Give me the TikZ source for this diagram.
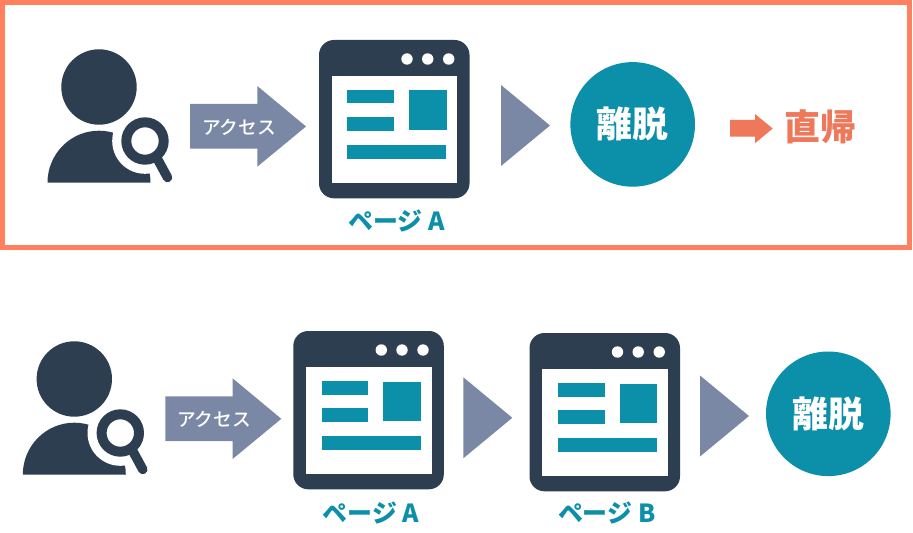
\documentclass[tikz,border=0pt]{standalone}
\usepackage{fontspec}
\newfontfamily\jp{Noto Sans CJK JP}
\newfontfamily\jpmed{Noto Sans CJK JP Medium}
\definecolor{navy}{HTML}{2D3E50}
\definecolor{slate}{HTML}{7A88A6}
\definecolor{teal}{HTML}{0C8FA8}
\definecolor{coral}{HTML}{EF775A}
\definecolor{framecoral}{HTML}{FF7F5F}
\tikzset{
  x=1bp,y=-1bp,
  iconfill/.style={fill=navy,draw=none},
  slatefill/.style={fill=slate,draw=none},
  tealfill/.style={fill=teal,draw=none},
  accesslabel/.style={text=white,inner sep=0pt,font=\jpmed\fontsize{18.8}{19}\selectfont},
  pagelabel/.style={text=teal,inner sep=0pt,font=\jp\bfseries\fontsize{25}{26}\selectfont},
  exitlabel/.style={text=white,inner sep=0pt,font=\jp\bfseries\fontsize{36}{37}\selectfont},
  returnlabel/.style={text=coral,inner sep=0pt,font=\jp\bfseries\fontsize{36}{37}\selectfont},
  userpic/.pic={
    \fill[navy] (99,87) circle[radius=37.7];
    \begin{scope}
      \clip (40,125) rectangle (160,182.7);
      \fill[navy] (47.5,182.7) arc[start angle=180,end angle=360,x radius=51.5,y radius=52] -- cycle;
      \fill[white] (145,141) circle[radius=32.8];
    \end{scope}
    \draw[navy,line width=10] (145,141) circle[radius=18.7];
    \draw[navy,line width=9.5,line cap=round] (158,160) -- (167.5,177.5);
  },
  accessarrow/.pic={
    \fill[slatefill] (190,104) -- (257.3,104) -- (257.3,86) -- (306,126.5) -- (257.3,166.7) -- (257.3,148.7) -- (190,148.7) -- cycle;
  },
  windowpic/.pic={
    \fill[iconfill,rounded corners=15] (319,40) rectangle (469.5,198.3);
    \fill[white] (331.7,76.3) rectangle (457.3,182.7);
    \foreach \dx in {407,427.7,448.7} \fill[white] (\dx,59) circle[radius=5.7];
    \fill[tealfill] (347.2,90) rectangle (394,103.5);
    \fill[tealfill] (347.2,117.3) rectangle (394,130.8);
    \fill[tealfill] (409,90.5) rectangle (446.7,130.3);
    \fill[tealfill] (347.2,145) rectangle (446.3,158.7);
  },
  nextmark/.pic={
    \fill[slatefill] (0,-40.5) -- (49,0) -- (0,40.5) -- cycle;
  },
}
\begin{document}
\begin{tikzpicture}
\useasboundingbox (0,0) rectangle (913,533);
\fill[white] (0,0) rectangle (913,533);
% top frame
\draw[framecoral,line width=4.8bp] (2.5,2.5) rectangle (909.7,247.8);
% top row
\pic at (0,0) {userpic};
\pic at (0,0) {accessarrow};
\node[accesslabel] (topaccess) at (239,127) {アクセス};
\pic at (0,0) {windowpic};
\node[pagelabel] (toppagea) at (396.7,221) {ページ A};
\pic at (501,125.5) {nextmark};
\fill[tealfill] (632.7,124.4) circle[radius=62.3];
\node[exitlabel] (topexit) at (632.7,124.4) {離脱};
\fill[coral] (730,120) -- (755,120) -- (755,114) -- (772.7,128.5) -- (755,143.3) -- (755,136.7) -- (730,136.7) -- cycle;
\node[returnlabel] (topreturn) at (820,127) {直帰};
% bottom row
\pic at (-24.7,292) {userpic};
\pic at (-24.7,292.3) {accessarrow};
\node[accesslabel] (botaccess) at (214,419) {アクセス};
\pic at (-25.7,291) {windowpic};
\node[pagelabel] (botpagea) at (371,512.7) {ページ A};
\pic at (463.3,417.8) {nextmark};
\pic at (210.5,293) {windowpic};
\node[pagelabel] (botpageb) at (606.7,512.7) {ページ B};
\pic at (700,416) {nextmark};
\fill[tealfill] (828.3,413.8) circle[radius=62.3];
\node[exitlabel] (botexit) at (828.3,413.8) {離脱};
\end{tikzpicture}
\end{document}
